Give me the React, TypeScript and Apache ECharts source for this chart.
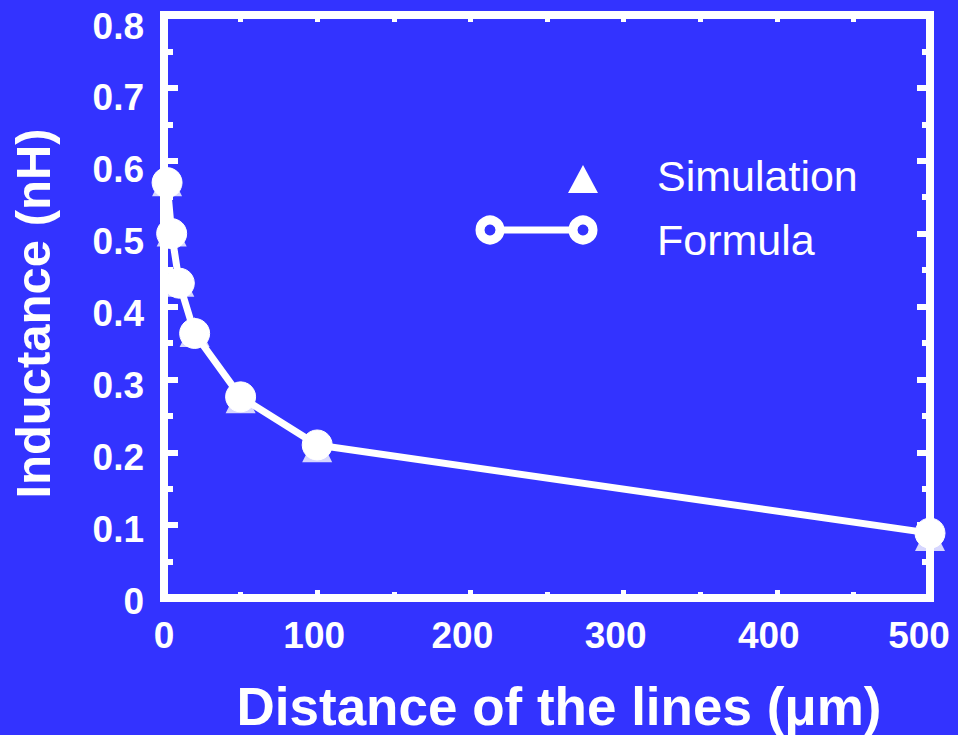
import React, { useEffect, useRef } from "react";
import * as echarts from "echarts";

const distances = [2, 5, 10, 20, 50, 100, 500];
const simulation = [0.572, 0.503, 0.434, 0.365, 0.274, 0.207, 0.085];
const formula = [0.570, 0.500, 0.432, 0.363, 0.276, 0.210, 0.089];
const seriesNames = ["Simulation", "Formula"];
const xTitle = "Distance of the lines (\u03bcm)";
const yTitle = "Inductance (nH)";

const BG = "#3333ff";
const FG = "#ffffff";
const FONT = "'Liberation Sans', Arial, sans-serif";

export default function App() {
  const ref = useRef<HTMLDivElement>(null);
  useEffect(() => {
    if (!ref.current) return;
    const chart = echarts.init(ref.current, null, { renderer: "svg" });

    const xRich: any = {};
    [0, 100, 200, 300, 400, 500].forEach((v) => {
      const pad = v === 0 ? 0 : v === 500 ? 22 : v === 100 ? 6 : 16;
      xRich["x" + v] = { fontSize: 37, fontWeight: "bold", color: FG, fontFamily: FONT, padding: [0, pad, 0, 0] };
    });
    const yRich: any = {};
    for (let i = 0; i <= 8; i++) {
      const off = 3 + i;
      yRich["y" + i] = { fontSize: 37, fontWeight: "bold", color: FG, fontFamily: FONT, padding: [off * 2, 0, 0, 0] };
    }

    const lineStyle = { color: FG, width: 8, cap: "square" as const };

    chart.setOption({
      animation: false,
      backgroundColor: BG,
      grid: { left: 164, right: 28, top: 15, bottom: 137, containLabel: false, outerBoundsMode: "none" },
      xAxis: [
        {
          type: "value",
          position: "bottom",
          min: 0,
          max: 500,
          interval: 100,
          name: xTitle,
          nameLocation: "middle",
          nameGap: 82,
          nameTextStyle: { color: FG, fontSize: 53, fontWeight: "bold", fontFamily: FONT, padding: [0, 0, 0, 24] },
          axisLine: { show: true, onZero: false, lineStyle },
          axisTick: { show: true, inside: true, length: 8, lineStyle: { color: FG, width: 5 } },
          minorTick: { show: true, splitNumber: 2, length: 6, lineStyle: { color: FG, width: 5 } },
          splitLine: { show: false },
          axisLabel: {
            margin: 19,
            formatter: (v: number) => `{x${v}|${v}}`,
            rich: xRich,
          },
        },
        {
          type: "value",
          position: "top",
          min: 0,
          max: 500,
          interval: 100,
          axisLine: { show: true, onZero: false, lineStyle },
          axisTick: { show: true, inside: true, length: 7, lineStyle: { color: FG, width: 5 } },
          minorTick: { show: true, splitNumber: 2, length: 7, lineStyle: { color: FG, width: 5 } },
          splitLine: { show: false },
          axisLabel: { show: false },
        },
      ],
      yAxis: [
        {
          type: "value",
          position: "left",
          min: 0,
          max: 0.8,
          interval: 0.1,
          name: yTitle,
          nameLocation: "middle",
          nameGap: 107,
          nameTextStyle: { color: FG, fontSize: 49, fontWeight: "bold", fontFamily: FONT, padding: [0, 14, 0, 0] },
          axisLine: { show: true, onZero: false, lineStyle },
          axisTick: { show: true, inside: true, length: 14, lineStyle: { color: FG, width: 6 } },
          minorTick: { show: true, splitNumber: 2, length: 9, lineStyle: { color: FG, width: 6 } },
          splitLine: { show: false },
          axisLabel: {
            margin: 20,
            formatter: (v: number) => {
              const i = Math.round(v * 10);
              return `{y${i}|${i === 0 ? "0" : v.toFixed(1)}}`;
            },
            rich: yRich,
          },
        },
        {
          type: "value",
          position: "right",
          min: 0,
          max: 0.8,
          interval: 0.1,
          axisLine: { show: true, onZero: false, lineStyle },
          axisTick: { show: true, inside: true, length: 13, lineStyle: { color: FG, width: 6 } },
          minorTick: { show: true, splitNumber: 2, length: 8, lineStyle: { color: FG, width: 6 } },
          splitLine: { show: false },
          axisLabel: { show: false },
        },
      ],
      series: [
        {
          name: seriesNames[0],
          type: "scatter",
          xAxisIndex: 0,
          yAxisIndex: 0,
          symbol: "triangle",
          symbolSize: 30,
          itemStyle: { color: FG },
          data: distances.map((d, i) => [d, simulation[i]]),
          z: 3,
        },
        {
          name: seriesNames[1],
          type: "line",
          xAxisIndex: 0,
          yAxisIndex: 0,
          symbol: "circle",
          symbolSize: 30,
          showAllSymbol: true,
          lineStyle: { color: FG, width: 7 },
          itemStyle: { color: FG, borderColor: FG },
          data: distances.map((d, i) => [d, formula[i]]),
          z: 2,
        },
      ],
      graphic: [
        {
          type: "polygon",
          shape: { points: [[583, 165], [568, 193], [598, 193]] },
          style: { fill: FG },
        },
        {
          type: "text",
          left: 657,
          top: 154,
          style: { text: seriesNames[0], fill: FG, fontSize: 43, fontFamily: FONT },
        },
        {
          type: "line",
          shape: { x1: 490, y1: 230, x2: 583, y2: 230 },
          style: { stroke: FG, lineWidth: 7 },
        },
        {
          type: "circle",
          shape: { cx: 490, cy: 230, r: 10 },
          style: { fill: BG, stroke: FG, lineWidth: 9 },
        },
        {
          type: "circle",
          shape: { cx: 583, cy: 230, r: 10 },
          style: { fill: BG, stroke: FG, lineWidth: 9 },
        },
        {
          type: "text",
          left: 657,
          top: 218,
          style: { text: seriesNames[1], fill: FG, fontSize: 43, fontFamily: FONT },
        },
      ],
    });
    return () => chart.dispose();
  }, []);
  return <div ref={ref} style={{ position: "fixed", left: 0, top: 0, width: 958, height: 735 }} />;
}
